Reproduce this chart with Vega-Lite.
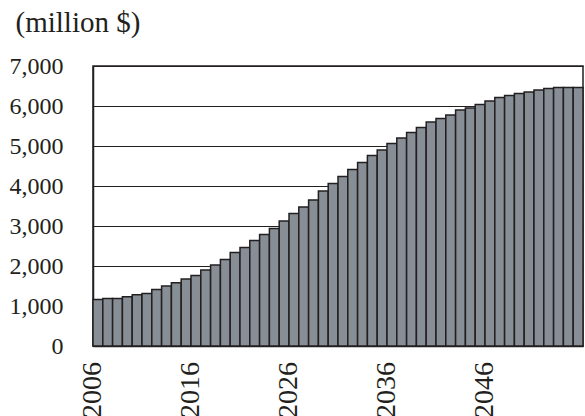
{
  "$schema": "https://vega.github.io/schema/vega-lite/v6.json",
  "autosize": "none",
  "padding": {"left": 93, "top": 66, "right": 2, "bottom": 70},
  "width": 490,
  "height": 280,
  "background": "white",
  "config": {
    "font": "Liberation Serif",
    "view": {"stroke": "#231f20", "strokeWidth": 1.5}
  },
  "data": {
    "values": [
      {"year": "2006", "value": 1160}, {"year": "2007", "value": 1190}, {"year": "2008", "value": 1190},
      {"year": "2009", "value": 1230}, {"year": "2010", "value": 1280}, {"year": "2011", "value": 1315},
      {"year": "2012", "value": 1415}, {"year": "2013", "value": 1500}, {"year": "2014", "value": 1580},
      {"year": "2015", "value": 1675}, {"year": "2016", "value": 1760}, {"year": "2017", "value": 1900},
      {"year": "2018", "value": 2025}, {"year": "2019", "value": 2165}, {"year": "2020", "value": 2340},
      {"year": "2021", "value": 2465}, {"year": "2022", "value": 2640}, {"year": "2023", "value": 2785},
      {"year": "2024", "value": 2940}, {"year": "2025", "value": 3125}, {"year": "2026", "value": 3310},
      {"year": "2027", "value": 3475}, {"year": "2028", "value": 3650}, {"year": "2029", "value": 3875},
      {"year": "2030", "value": 4060}, {"year": "2031", "value": 4235}, {"year": "2032", "value": 4410},
      {"year": "2033", "value": 4585}, {"year": "2034", "value": 4760}, {"year": "2035", "value": 4900},
      {"year": "2036", "value": 5060}, {"year": "2037", "value": 5200}, {"year": "2038", "value": 5340},
      {"year": "2039", "value": 5465}, {"year": "2040", "value": 5600}, {"year": "2041", "value": 5685},
      {"year": "2042", "value": 5775}, {"year": "2043", "value": 5900}, {"year": "2044", "value": 5950},
      {"year": "2045", "value": 6040}, {"year": "2046", "value": 6125}, {"year": "2047", "value": 6210},
      {"year": "2048", "value": 6260}, {"year": "2049", "value": 6310}, {"year": "2050", "value": 6350},
      {"year": "2051", "value": 6400}, {"year": "2052", "value": 6435}, {"year": "2053", "value": 6465},
      {"year": "2054", "value": 6465}, {"year": "2055", "value": 6465}
    ]
  },
  "encoding": {
    "x": {
      "field": "year",
      "type": "nominal",
      "sort": "ascending",
      "scale": {"paddingInner": 0, "paddingOuter": 0},
      "axis": {
        "title": null,
        "labels": false,
        "ticks": false,
        "domainColor": "#231f20",
        "domainWidth": 1.5
      }
    }
  },
  "layer": [
    {
      "mark": {"type": "bar", "fill": "#878e96", "stroke": "#231f20", "strokeWidth": 1.5},
      "encoding": {
        "y": {
          "field": "value",
          "type": "quantitative",
          "title": "(million $)",
          "scale": {"domain": [0, 7000], "nice": false},
          "axis": {
            "title": "(million $)",
            "titleAngle": 0,
            "titleFontSize": 29,
            "titleFontWeight": "normal",
            "titleColor": "#231f20",
            "titleAlign": "left",
            "titleBaseline": "alphabetic",
            "titleX": -78,
            "titleY": -35,
            "values": [0, 1000, 2000, 3000, 4000, 5000, 6000, 7000],
            "tickCount": 8,
            "format": ",.0f",
            "labelFontSize": 24,
            "labelColor": "#231f20",
            "labelPadding": 30,
            "labelOverlap": false,
            "ticks": false,
            "grid": true,
            "gridColor": "#231f20",
            "gridWidth": 1,
            "gridOpacity": 1,
            "domainColor": "#231f20",
            "domainWidth": 1.5
          }
        }
      }
    },
    {
      "transform": [
        {"filter": "indexof(['2006','2016','2026','2036','2046'], datum.year) >= 0"}
      ],
      "mark": {
        "type": "text",
        "angle": 270,
        "align": "right",
        "baseline": "middle",
        "dx": -16,
        "dy": -5,
        "fontSize": 28,
        "color": "#231f20",
        "clip": false
      },
      "encoding": {
        "y": {
          "datum": 0,
          "type": "quantitative",
          "title": "(million $)",
          "scale": {"domain": [0, 7000], "nice": false},
          "axis": {
            "title": "(million $)",
            "titleAngle": 0,
            "titleFontSize": 29,
            "titleFontWeight": "normal",
            "titleColor": "#231f20",
            "titleAlign": "left",
            "titleBaseline": "alphabetic",
            "titleX": -78,
            "titleY": -35,
            "values": [0, 1000, 2000, 3000, 4000, 5000, 6000, 7000],
            "tickCount": 8,
            "format": ",.0f",
            "labelFontSize": 24,
            "labelColor": "#231f20",
            "labelPadding": 30,
            "labelOverlap": false,
            "ticks": false,
            "grid": true,
            "gridColor": "#231f20",
            "gridWidth": 1,
            "gridOpacity": 1,
            "domainColor": "#231f20",
            "domainWidth": 1.5
          }
        },
        "text": {"field": "year"}
      }
    }
  ]
}
